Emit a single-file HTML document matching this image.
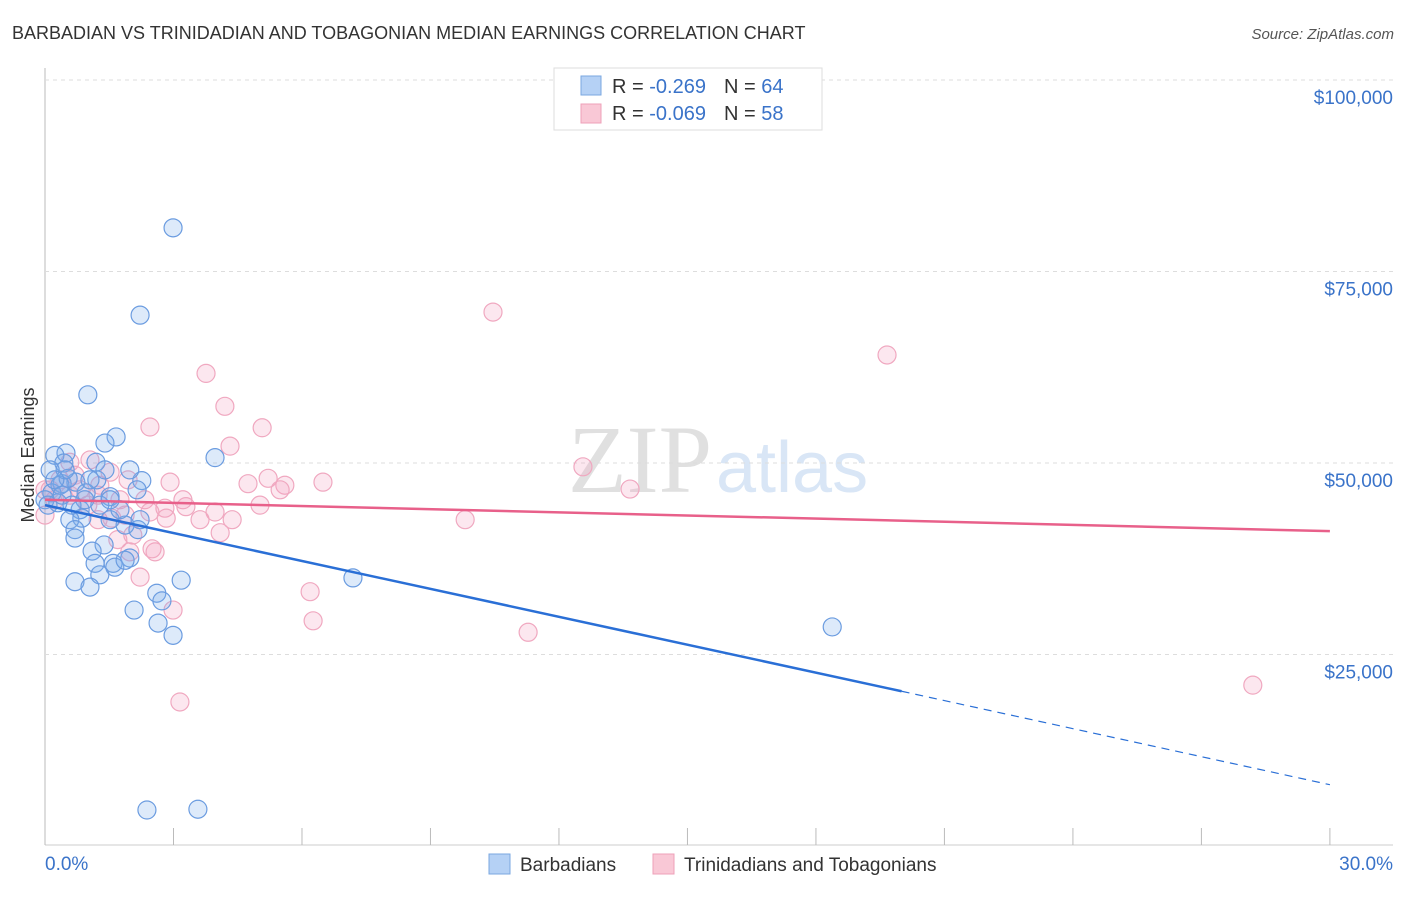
<!DOCTYPE html>
<html><head><meta charset="utf-8"><style>
body{margin:0;background:#fff;font-family:"Liberation Sans",sans-serif}
</style></head><body>
<svg width="1406" height="892" xmlns="http://www.w3.org/2000/svg" id="chart">
<text x="12" y="39" font-size="18" fill="#333">BARBADIAN VS TRINIDADIAN AND TOBAGONIAN MEDIAN EARNINGS CORRELATION CHART</text>
<text x="1394" y="39" font-size="15" fill="#555" font-style="italic" text-anchor="end">Source: ZipAtlas.com</text>
<text x="712" y="492" font-size="96" fill="#e0e0e0" text-anchor="end" font-family="Liberation Serif">ZIP</text>
<text x="716" y="492" font-size="72" fill="#d9e6f6">atlas</text>
<text x="34" y="455" font-size="18" fill="#333" text-anchor="middle" transform="rotate(-90 34 455)">Median Earnings</text>
<g id="grid"></g><g id="pts"></g><g id="trend"></g>
<g>
<rect x="554" y="68" width="268" height="62" fill="#fff" stroke="#ddd"/>
<rect x="581" y="76" width="20" height="19" fill="#b5d1f5" stroke="#7aa7e0"/>
<rect x="581" y="104" width="20" height="19" fill="#f9c8d6" stroke="#eea0b8"/>
<text x="612" y="93" font-size="20" fill="#333">R = <tspan fill="#3a73c9">-0.269</tspan><tspan dx="18">N = </tspan><tspan fill="#3a73c9">64</tspan></text>
<text x="612" y="120" font-size="20" fill="#333">R = <tspan fill="#3a73c9">-0.069</tspan><tspan dx="18">N = </tspan><tspan fill="#3a73c9">58</tspan></text>
</g>
<g>
<rect x="489" y="854" width="21" height="20" fill="#b5d1f5" stroke="#7aa7e0"/>
<text x="520" y="871" font-size="19" fill="#333">Barbadians</text>
<rect x="653" y="854" width="21" height="20" fill="#f9c8d6" stroke="#eea0b8"/>
<text x="684" y="871" font-size="19" fill="#333">Trinidadians and Tobagonians</text>
</g>
<text x="45" y="870" font-size="19" fill="#3a73c9">0.0%</text>
<text x="1393" y="870" font-size="19" fill="#3a73c9" text-anchor="end">30.0%</text>
</svg>
<script>
const yTicks=[25000,50000,75000,100000];
const yTickLabels=["$25,000","$50,000","$75,000","$100,000"];
const xTicks=[0,3,6,9,12,15,18,21,24,27,30];
const blueX=[2.99,2.22,1.00,1.66,1.40,0.49,0.23,1.19,3.97,0.44,2.26,0.72,0.40,1.21,1.40,2.15,1.52,0.96,0.16,0.30,0,0.82,0.86,1.52,1.87,2.17,0.58,0.70,0.70,1.38,1.10,1.17,1.59,1.63,1.98,1.28,3.18,0.70,1.05,7.19,2.61,2.73,2.08,2.64,2.99,18.38,2.38,3.57,0.07,0.35,0.12,0.54,0.93,1.28,1.75,0.47,0.23,1.05,1.98,0.40,0.63,1.52,2.22,1.87];
const blueY=[80.7,69.3,58.9,53.4,52.6,51.3,51.0,50.1,50.7,50.0,47.7,47.5,47.3,47.8,49.1,46.5,45.6,46.1,46.1,44.8,45.2,43.9,42.8,42.6,41.9,41.3,42.6,41.3,40.2,39.3,38.5,36.9,36.9,36.4,37.6,35.4,34.7,34.5,33.8,35.0,33.0,32.0,30.8,29.1,27.5,28.6,4.7,4.8,44.5,47.1,49.1,48.0,45.2,44.5,43.9,49.1,47.8,47.8,49.1,45.8,44.5,45.2,42.6,37.3];
const pinkX=[10.46,19.66,3.76,4.20,2.45,5.07,4.32,0.58,12.56,1.52,1.94,0.70,2.92,4.74,5.21,5.60,6.49,5.49,13.66,1.24,2.33,3.22,5.02,3.29,2.80,3.97,1.00,4.37,2.83,3.62,1.24,1.56,1.87,9.81,2.05,4.09,1.70,1.98,2.57,2.50,2.22,6.19,2.99,6.26,11.28,28.20,3.15,0.12,0.35,0.82,0.58,0.23,0,1.28,1.05,2.45,1.75,0];
const pinkY=[69.7,64.1,61.7,57.4,54.7,54.6,52.2,50.1,49.5,48.8,47.8,48.4,47.5,47.3,48.0,47.1,47.5,46.5,46.6,45.8,45.2,45.2,44.5,44.3,44.1,43.6,44.5,42.6,42.8,42.6,42.6,42.8,43.2,42.6,40.6,40.9,40.0,38.4,38.4,38.8,35.1,33.2,30.8,29.4,27.9,21.0,18.8,46.5,47.8,46.5,45.8,45.2,43.2,47.1,50.4,43.6,45.2,46.5];
const blueTrend=[44.5,20.2,8.0]; // y at x=0, 20, 30
const pinkTrend=[45.2,41.1]; // y at x=0,30
const X=v=>45+v*42.83, Y=k=>80+(100-k)*7.66;
const NS="http://www.w3.org/2000/svg";
function mk(t,a,p){const e=document.createElementNS(NS,t);for(const k in a)e.setAttribute(k,a[k]);p.appendChild(e);return e;}
const grid=document.getElementById('grid');
mk('line',{x1:45,y1:68,x2:45,y2:845,stroke:'#bbb'},grid);
mk('line',{x1:45,y1:845,x2:1393,y2:845,stroke:'#ccc'},grid);
yTicks.forEach((t,i)=>{const y=Y(t/1000);
const l=mk('line',{x1:45,y1:y,x2:1393,y2:y,stroke:'#ddd','stroke-dasharray':'4,4'},grid);


const tx=mk('text',{x:1393,y:y+24,'font-size':19,fill:'#3a73c9','text-anchor':'end'},grid);
tx.textContent=yTickLabels[i];

});
xTicks.forEach(t=>{const l=mk('line',{x1:X(t),y1:828,x2:X(t),y2:845,stroke:'#bbb'},grid);

});
const pts=document.getElementById('pts');
pinkX.forEach((x,i)=>{const c=mk('circle',{cx:X(x),cy:Y(pinkY[i]),r:9,fill:'rgba(245,160,190,0.25)',stroke:'#f0a8c0','stroke-width':1.2},pts);

});
blueX.forEach((x,i)=>{const c=mk('circle',{cx:X(x),cy:Y(blueY[i]),r:9,fill:'rgba(120,170,235,0.25)',stroke:'#6b9ce0','stroke-width':1.2},pts);

});
const tr=document.getElementById('trend');
let l=mk('line',{x1:X(0),y1:Y(blueTrend[0]),x2:X(20),y2:Y(blueTrend[1]),stroke:'#2a6fd6','stroke-width':2.5},tr);


l=mk('line',{x1:X(20),y1:Y(blueTrend[1]),x2:X(30),y2:Y(blueTrend[2]),stroke:'#2a6fd6','stroke-width':1.2,'stroke-dasharray':'8,6'},tr);


l=mk('line',{x1:X(0),y1:Y(pinkTrend[0]),x2:X(30),y2:Y(pinkTrend[1]),stroke:'#e8608a','stroke-width':2.5},tr);


</script>
</body></html>
